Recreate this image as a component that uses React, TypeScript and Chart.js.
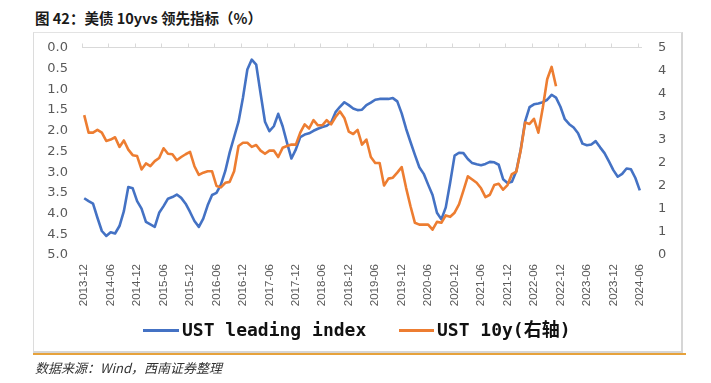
import React, { useEffect, useRef } from "react";
import { Chart, registerables } from "chart.js";

Chart.register(...registerables);

// Monthly categories 2013-12 .. 2024-06
const START_YEAR = 2013;
const START_MONTH = 12;
const MONTH_COUNT = 127;
const categories: string[] = [];
for (let k = 0; k < MONTH_COUNT; k++) {
  const m = START_MONTH - 1 + k;
  const y = START_YEAR + Math.floor(m / 12);
  const mm = (m % 12) + 1;
  categories.push(`${y}-${String(mm).padStart(2, "0")}`);
}

// UST leading index (left axis, reversed)
const leadingIndex: number[] = [
  3.63, 3.70, 3.76, 4.10, 4.42, 4.54, 4.45, 4.48, 4.30, 3.94, 3.36, 3.39,
  3.70, 3.88, 4.20, 4.26, 4.32, 3.98, 3.82, 3.64, 3.60, 3.54, 3.62, 3.76,
  3.96, 4.18, 4.32, 4.12, 3.80, 3.55, 3.50, 3.30, 2.97, 2.52, 2.15, 1.78,
  1.20, 0.52, 0.28, 0.40, 1.10, 1.78, 2.01, 1.89, 1.59, 1.89, 2.29, 2.67,
  2.45, 2.15, 2.09, 2.06, 2.00, 1.95, 1.91, 1.88, 1.80, 1.55, 1.42, 1.31,
  1.38, 1.46, 1.50, 1.49, 1.38, 1.32, 1.25, 1.23, 1.23, 1.23, 1.21, 1.29,
  1.58, 1.95, 2.27, 2.58, 2.88, 3.04, 3.30, 3.55, 3.98, 4.14, 3.85, 3.25,
  2.60, 2.53, 2.54, 2.68, 2.78, 2.81, 2.83, 2.80, 2.75, 2.76, 2.82, 3.17,
  3.26, 3.23, 2.97, 2.45, 1.77, 1.43, 1.36, 1.34, 1.31, 1.25, 1.13, 1.20,
  1.42, 1.72, 1.84, 1.92, 2.06, 2.31, 2.35, 2.33, 2.25, 2.40, 2.54, 2.74,
  2.95, 3.11, 3.04, 2.91, 2.93, 3.14, 3.44,
];

// UST 10y yield (right axis)
const ust10y: number[] = [
  3.04, 2.66, 2.66, 2.72, 2.66, 2.48, 2.51, 2.56, 2.35, 2.49, 2.29, 2.17,
  2.15, 1.86, 1.99, 1.93, 2.04, 2.11, 2.32, 2.20, 2.19, 2.06, 2.13, 2.19,
  2.24, 1.93, 1.74, 1.79, 1.82, 1.82, 1.50, 1.47, 1.57, 1.59, 1.82, 2.37,
  2.44, 2.44, 2.35, 2.39, 2.27, 2.20, 2.27, 2.27, 2.13, 2.33, 2.37, 2.40,
  2.40, 2.66, 2.84, 2.75, 2.93, 2.82, 2.82, 2.93, 2.84, 3.00, 3.12, 2.98,
  2.68, 2.63, 2.72, 2.40, 2.51, 2.13, 2.00, 2.00, 1.51, 1.66, 1.68, 1.79,
  1.91, 1.46, 1.06, 0.70, 0.66, 0.66, 0.66, 0.55, 0.72, 0.70, 0.86, 0.83,
  0.92, 1.10, 1.40, 1.71, 1.64, 1.57, 1.45, 1.26, 1.31, 1.52, 1.55, 1.42,
  1.52, 1.76, 1.81, 2.28, 2.88, 2.85, 2.96, 2.66, 3.20, 3.82, 4.09, 3.67,
];

const LABEL_EVERY = 6;
const LEFT_MIN = 0, LEFT_MAX = 5, LEFT_STEP = 0.5;
const RIGHT_MIN = 0, RIGHT_MAX = 4.5, RIGHT_STEP = 0.5;

const SERIES_NAMES = ["UST leading index", "UST 10y(右轴)"];
const BLUE = "#4472C4";
const ORANGE = "#ED7D31";

const topAxisPlugin = {
  id: "topAxis",
  beforeDatasetsDraw(chart: any) {
    const { ctx, chartArea, scales } = chart;
    const xs = scales.x;
    const step = xs.getPixelForValue(1) - xs.getPixelForValue(0);
    ctx.save();
    ctx.strokeStyle = "#d9d9d9";
    ctx.lineWidth = 1;
    ctx.beginPath();
    const y = Math.round(chartArea.top) - 0.5;
    ctx.moveTo(chartArea.left, y);
    ctx.lineTo(chartArea.right, y);
    for (let i = 0; i < categories.length; i += LABEL_EVERY) {
      const x = Math.round(xs.getPixelForValue(i) - step / 2) + 0.5;
      ctx.moveTo(x, y);
      ctx.lineTo(x, y - 4);
    }
    ctx.stroke();
    ctx.restore();
  },
};

export default function App() {
  const canvasRef = useRef<HTMLCanvasElement | null>(null);

  useEffect(() => {
    if (!canvasRef.current) return;
    const chart = new Chart(canvasRef.current, {
      type: "line",
      data: {
        labels: categories,
        datasets: [
          {
            label: SERIES_NAMES[0],
            data: leadingIndex,
            yAxisID: "y",
            borderColor: BLUE,
            backgroundColor: BLUE,
            borderWidth: 2.6,
            pointRadius: 0,
            tension: 0,
            borderJoinStyle: "round",
            order: 2,
          },
          {
            label: SERIES_NAMES[1],
            data: ust10y,
            yAxisID: "y2",
            borderColor: ORANGE,
            backgroundColor: ORANGE,
            borderWidth: 2.6,
            pointRadius: 0,
            tension: 0,
            borderJoinStyle: "round",
            order: 1,
          },
        ],
      },
      options: {
        responsive: false,
        animation: false,
        devicePixelRatio: 1,
        layout: { padding: { top: 48, left: 0, right: 0, bottom: 0 } },
        plugins: { legend: { display: false }, tooltip: { enabled: false } },
        scales: {
          x: {
            type: "category",
            offset: true,
            grid: { display: false, drawTicks: false },
            border: { display: false },
            ticks: {
              autoSkip: false,
              maxRotation: 90,
              minRotation: 90,
              padding: 9,
              color: "#595959",
              font: { family: "'Liberation Sans', Arial, sans-serif", size: 11.5 },
              callback: (_v: any, i: number) => (i % LABEL_EVERY === 0 ? categories[i] : ""),
            },
            afterFit: (s: any) => {
              s.height = 383 - 255;
            },
          },
          y: {
            position: "left",
            reverse: true,
            min: LEFT_MIN,
            max: LEFT_MAX,
            grid: { display: false, drawTicks: false },
            border: { display: false },
            ticks: {
              stepSize: LEFT_STEP,
              padding: 14,
              color: "#595959",
              font: { family: "'DejaVu Sans', sans-serif", size: 13 },
              callback: (v: any) => Number(v).toFixed(1),
            },
            afterFit: (s: any) => {
              s.width = 82;
            },
          },
          y2: {
            position: "right",
            min: RIGHT_MIN,
            max: RIGHT_MAX,
            grid: { display: false, drawTicks: false },
            border: { display: false },
            ticks: {
              stepSize: RIGHT_STEP,
              padding: 16,
              color: "#595959",
              font: { family: "'DejaVu Sans', sans-serif", size: 13 },
              callback: (v: any) => String(Math.round(Number(v))),
            },
            afterFit: (s: any) => {
              s.width = 69;
            },
          },
        },
      },
      plugins: [topAxisPlugin],
    } as any);
    return () => chart.destroy();
  }, []);

  const legendText: React.CSSProperties = {
    position: "absolute",
    top: 318,
    fontFamily: "'DejaVu Sans Mono', 'Noto Sans CJK SC', monospace",
    fontSize: 18,
    fontWeight: "bold",
    color: "#111",
    lineHeight: "24px",
    whiteSpace: "nowrap",
  };

  return (
    <div style={{ position: "absolute", left: 0, top: 0, width: 711, height: 383, background: "#fff", overflow: "hidden" }}>
      <div
        style={{
          position: "absolute",
          left: 35,
          top: 7,
          fontFamily: "'Noto Sans CJK SC', sans-serif",
          fontWeight: "bold",
          fontSize: 14.5,
          lineHeight: "22px",
          color: "#1a1a1a",
          whiteSpace: "nowrap",
        }}
      >
        图 42：美债 10yvs 领先指标（%）
      </div>
      <div
        style={{
          position: "absolute",
          left: 33,
          top: 32,
          width: 647,
          height: 318,
          borderTop: "1px solid #e3e3e3",
          borderLeft: "1px solid #dcdcdc",
          borderRight: "2px solid #d6d6d6",
          borderBottom: "2px solid #d6d6d6",
        }}
      />
      <div style={{ position: "absolute", left: 33, top: 353, width: 653, height: 2, background: "#E6A23C" }} />
      <canvas
        ref={canvasRef}
        width={711}
        height={383}
        style={{ position: "absolute", left: 0, top: 0, width: 711, height: 383 }}
      />
      <div style={{ position: "absolute", left: 143, top: 329, width: 36, height: 3, background: BLUE }} />
      <div style={{ ...legendText, left: 182 }}>{SERIES_NAMES[0]}</div>
      <div style={{ position: "absolute", left: 399, top: 329, width: 35, height: 3, background: ORANGE }} />
      <div style={{ ...legendText, left: 437 }}>{SERIES_NAMES[1]}</div>
      <div
        style={{
          position: "absolute",
          left: 35,
          top: 359,
          fontFamily: "'Noto Sans CJK SC', sans-serif",
          fontStyle: "italic",
          fontSize: 13,
          lineHeight: "18px",
          color: "#333",
          whiteSpace: "nowrap",
        }}
      >
        数据来源：Wind，西南证券整理
      </div>
    </div>
  );
}
